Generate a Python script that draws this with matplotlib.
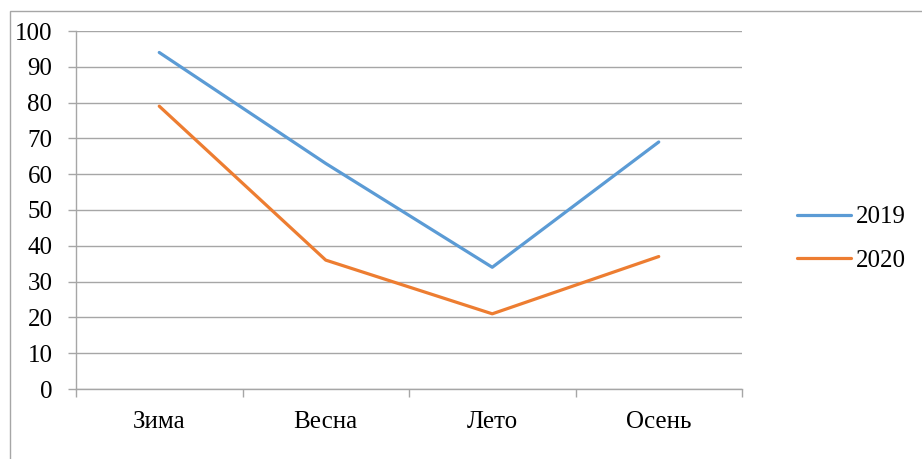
import matplotlib.pyplot as plt
from matplotlib.patches import Rectangle

# data
seasons = ['Зима', 'Весна', 'Лето', 'Осень']
years = ['2019', '2020']
values_2019 = [94, 63, 34, 69]
values_2020 = [79, 36, 21, 37]
colors = ['#5B9BD5', '#ED7D31']

plt.rcParams['font.family'] = ['Liberation Serif', 'DejaVu Serif']
plt.rcParams['font.size'] = 18

W, H = 922, 459
fig = plt.figure(figsize=(W / 100, H / 100), dpi=100)
ax = fig.add_axes([76 / W, 1 - 389 / H, (742 - 76) / W, (389 - 31) / H])

grid_col = '#a6a6a6'
x = list(range(len(seasons)))
for vals, lab, col in zip([values_2019, values_2020], years, colors):
    ax.plot(x, vals, color=col, lw=2.3, label=lab, solid_capstyle='round')

ax.set_xlim(-0.5, len(seasons) - 0.5)
ax.set_ylim(0, 100)
ax.set_yticks(range(0, 101, 10))
ax.yaxis.grid(True, color=grid_col, lw=1)
ax.set_axisbelow(True)

# boundaries as major ticks, labels on minor ticks at centres
ax.set_xticks([i - 0.5 for i in range(len(seasons) + 1)])
ax.set_xticklabels([])
ax.set_xticks(x, minor=True)
ax.set_xticklabels(seasons, minor=True)
ax.tick_params(axis='x', which='major', length=6, color=grid_col, width=1)
ax.tick_params(axis='x', which='minor', length=0, pad=16)
ax.tick_params(axis='y', length=6, color=grid_col, width=1, pad=11)

for s in ['top', 'right']:
    ax.spines[s].set_visible(False)
for s in ['left', 'bottom']:
    ax.spines[s].set_color(grid_col)
    ax.spines[s].set_linewidth(1)

ax.legend(loc='center left', bbox_to_anchor=(797 / W, 1 - 239 / H),
          bbox_transform=fig.transFigure, frameon=False, borderpad=0,
          borderaxespad=0, handlelength=2.15, handletextpad=0.2,
          labelspacing=0.85)

# outer chart border (cut off at right and bottom)
fig.add_artist(Rectangle((10 / W, -0.1), 1.2, 1.1 - 11 / H,
                         transform=fig.transFigure, fill=False,
                         edgecolor=grid_col, lw=1))

fig.savefig('out.png', dpi=100)
